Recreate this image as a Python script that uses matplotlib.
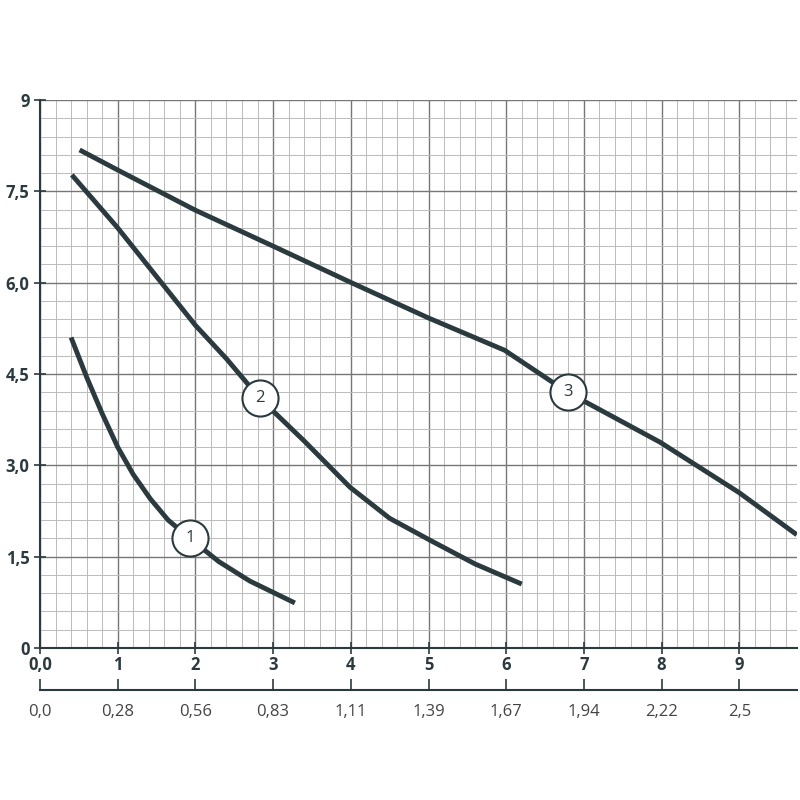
import matplotlib.pyplot as plt
import numpy as np

# Kurven (Förderstrom, Förderhöhe)
c1_x = [0.40, 0.60, 0.80, 1.00, 1.20, 1.42, 1.65, 1.93, 2.30, 2.70, 3.28]
c1_y = [5.10, 4.45, 3.85, 3.30, 2.85, 2.45, 2.10, 1.80, 1.42, 1.10, 0.74]
c2_x = [0.41, 1.00, 1.50, 2.00, 2.40, 2.83, 3.40, 3.99, 4.50, 5.02, 5.60, 6.20]
c2_y = [7.77, 6.90, 6.10, 5.30, 4.75, 4.10, 3.40, 2.64, 2.13, 1.77, 1.38, 1.05]
c3_x = [0.51, 1.00, 2.00, 3.00, 3.99, 5.00, 5.98, 6.79, 7.98, 9.00, 9.74]
c3_y = [8.18, 7.85, 7.19, 6.60, 6.01, 5.42, 4.89, 4.20, 3.38, 2.55, 1.86]
labels = ["1", "2", "3"]
label_pos = [(1.93, 1.80), (2.83, 4.10), (6.79, 4.20)]

x_ticks = list(range(10))
x_labels = ["0,0", "1", "2", "3", "4", "5", "6", "7", "8", "9"]
x2_labels = ["0,0", "0,28", "0,56", "0,83", "1,11", "1,39", "1,67", "1,94", "2,22", "2,5"]
y_ticks = [0, 1.5, 3.0, 4.5, 6.0, 7.5, 9]
y_labels = ["0", "1,5", "3,0", "4,5", "6,0", "7,5", "9"]

col = '#2b3a3f'
plt.rcParams['font.family'] = ['Open Sans', 'DejaVu Sans']

fig = plt.figure(figsize=(8, 8), dpi=100)
ax = fig.add_axes([0.05, 0.19, 0.946, 0.685])
ax.set_xlim(0, 9.74)
ax.set_ylim(0, 9)

# Raster
for xv in np.arange(0, 9.8, 0.2):
    major = abs(xv - round(xv)) < 1e-6
    ax.axvline(xv, color='#777777' if major else '#bbbbbb', lw=1.0 if major else 0.7, zorder=1)
for yv in np.arange(0, 9.01, 0.3):
    major = abs(yv / 1.5 - round(yv / 1.5)) < 1e-6
    ax.axhline(yv, color='#777777' if major else '#bbbbbb', lw=1.0 if major else 0.7, zorder=1)

for xs, ys in [(c1_x, c1_y), (c2_x, c2_y), (c3_x, c3_y)]:
    ax.plot(xs, ys, color=col, lw=3.5, solid_capstyle='butt', solid_joinstyle='round', zorder=3)

for lab, (px, py) in zip(labels, label_pos):
    ax.plot(px, py, 'o', ms=26, mfc='white', mec=col, mew=1.5, zorder=4)
    ax.text(px, py, lab, ha='center', va='center', fontsize=12, color=col, zorder=5)

for s in ['top', 'right']:
    ax.spines[s].set_visible(False)
ax.spines['left'].set_color(col)
ax.spines['bottom'].set_color(col)
ax.spines['left'].set_linewidth(1.5)
ax.spines['bottom'].set_linewidth(1.5)
ax.set_xticks(x_ticks)
ax.set_xticklabels(x_labels, fontsize=12, fontweight='bold', color=col)
ax.set_yticks(y_ticks)
ax.set_yticklabels(y_labels, fontsize=12, fontweight='bold', color=col)
ax.tick_params(length=8, color=col, width=1.2, direction='inout')
ax.tick_params(axis='x', pad=2)

# zweite Achse
ax2 = fig.add_axes([0.05, 0.1375, 0.946, 0.001])
ax2.set_xlim(0, 9.74)
ax2.set_yticks([])
for s in ['top', 'right', 'left']:
    ax2.spines[s].set_visible(False)
ax2.spines['bottom'].set_color(col)
ax2.spines['bottom'].set_linewidth(1.5)
ax2.patch.set_alpha(0)
ax2.set_xticks(x_ticks)
ax2.set_xticklabels(x2_labels, fontsize=12, color='#444444')
ax2.tick_params(axis='x', direction='in', length=8, color=col, width=1.2, pad=10)

fig.savefig('out.png', dpi=100, facecolor='white')
